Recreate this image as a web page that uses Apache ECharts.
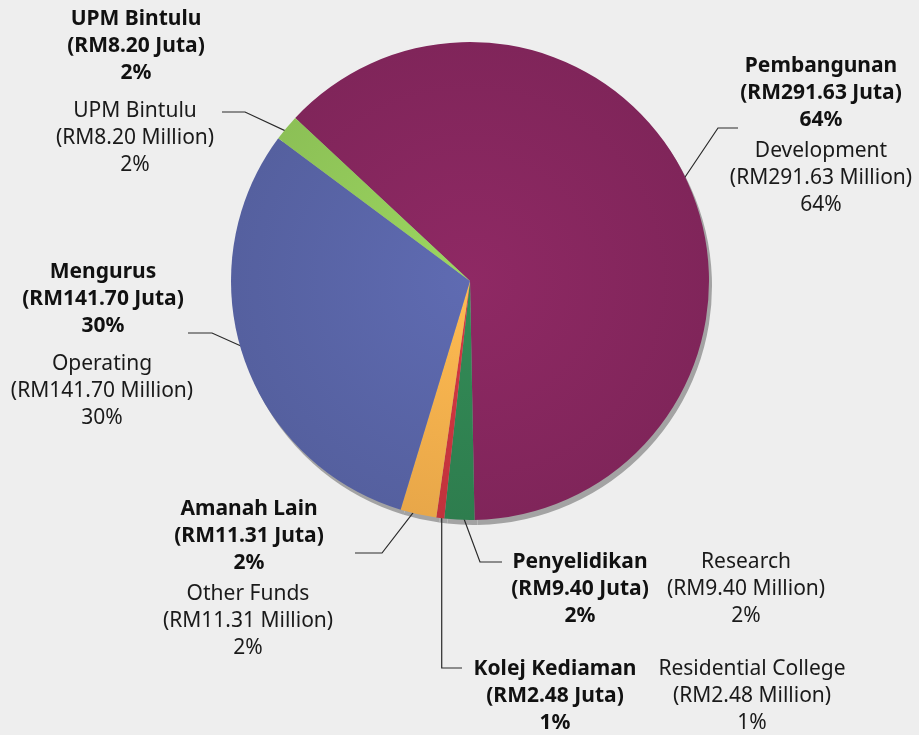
<!DOCTYPE html>
<html>
<head>
<meta charset="utf-8">
<script src="https://cdn.jsdelivr.net/npm/echarts@6/dist/echarts.min.js"></script>
<style>
  html, body { margin: 0; padding: 0; background: #eeeeee; }
  #pieChart { width: 919px; height: 735px; }
</style>
</head>
<body>
<div id="pieChart"></div>
<script>
// data
const namesMs = ['Pembangunan', 'Penyelidikan', 'Kolej Kediaman', 'Amanah Lain', 'Mengurus', 'UPM Bintulu'];
const namesEn = ['Development', 'Research', 'Residential College', 'Other Funds', 'Operating', 'UPM Bintulu'];
const amounts = [291.63, 9.40, 2.48, 11.31, 141.70, 8.20];
const pctLabels = [64, 2, 1, 2, 30, 2];

const colors = ['#80255a', '#2e7d4e', '#c1323c', '#e8a749', '#55609f', '#8cc056'];

// layout of the pie and the text blocks
const center = [470, 281];
const radius = 239;
// [x center, y top] of the malay and english text blocks
const msPos = [[821, 53], [580, 549], [555, 656], [249, 496], [103, 259], [136, 6]];
const enPos = [[821, 138], [746, 549], [752, 656], [248, 581], [102, 351], [135, 98]];
// elbow and end of each leader line, null x = straight down from the anchor
const elbows = [
  [[718, 128], [738, 128]],
  [[480, 562], [502, 562]],
  [[null, 668], [462, 668]],
  [[382, 553], [355, 553]],
  [[212, 333], [188, 333]],
  [[245, 112], [222, 112]]
];

const font = '"Noto Sans", "Open Sans", sans-serif';

function radial(c) {
  return {
    type: 'radial', x: center[0], y: center[1], r: radius, global: true,
    colorStops: [
      { offset: 0, color: echarts.color.lift(c, -0.12) },
      { offset: 1, color: c }
    ]
  };
}

const pieData = amounts.map((v, i) => ({
  value: v,
  name: namesMs[i],
  itemStyle: { color: radial(colors[i]) }
}));

const chartDom = document.getElementById('pieChart');
const myChart = echarts.init(chartDom);
const option = {
  backgroundColor: '#eeeeee',
  animation: false,
  series: [
    {
      // gray rim under the pie, carries the english labels
      type: 'pie',
      z: 1,
      silent: true,
      center: [center[0] + 3, center[1] + 5],
      radius: radius,
      startAngle: 137,
      data: amounts.map((v, i) => ({ value: v, name: namesEn[i] })),
      itemStyle: { color: '#a3a3a3' },
      label: {
        show: true,
        position: 'outside',
        overflow: 'none',
        formatter: p => {
          const i = p.dataIndex;
          return namesEn[i] + '\n(RM' + amounts[i].toFixed(2) + ' Million)\n' + pctLabels[i] + '%';
        },
        fontFamily: font,
        fontSize: 21,
        lineHeight: 27,
        color: '#1a1a1a',
        align: 'center'
      },
      labelLine: { show: false },
      labelLayout: p => ({
        x: enPos[p.dataIndex][0],
        y: enPos[p.dataIndex][1],
        align: 'center',
        verticalAlign: 'top'
      })
    },
    {
      type: 'pie',
      z: 2,
      center: center,
      radius: radius,
      startAngle: 137,
      data: pieData,
      itemStyle: { borderWidth: 0 },
      label: {
        show: true,
        position: 'outside',
        overflow: 'none',
        formatter: p => {
          const i = p.dataIndex;
          return namesMs[i] + '\n(RM' + amounts[i].toFixed(2) + ' Juta)\n' + pctLabels[i] + '%';
        },
        fontFamily: font,
        fontSize: 21,
        fontWeight: 'bold',
        lineHeight: 27,
        color: '#111111',
        align: 'center'
      },
      labelLine: {
        show: true,
        lineStyle: { color: '#2a2a2a', width: 1.2 }
      },
      labelLayout: p => {
        const i = p.dataIndex;
        const edge = p.labelLinePoints ? p.labelLinePoints[0] : center;
        const a = [
          center[0] + (edge[0] - center[0]) * 0.95,
          center[1] + (edge[1] - center[1]) * 0.95
        ];
        const e = elbows[i];
        const knee = [e[0][0] === null ? a[0] : e[0][0], e[0][1]];
        return {
          x: msPos[i][0],
          y: msPos[i][1],
          align: 'center',
          verticalAlign: 'top',
          labelLinePoints: [a, knee, e[1]]
        };
      }
    }
  ]
};
option && myChart.setOption(option);
window.addEventListener('resize', myChart.resize);
</script>
</body>
</html>
